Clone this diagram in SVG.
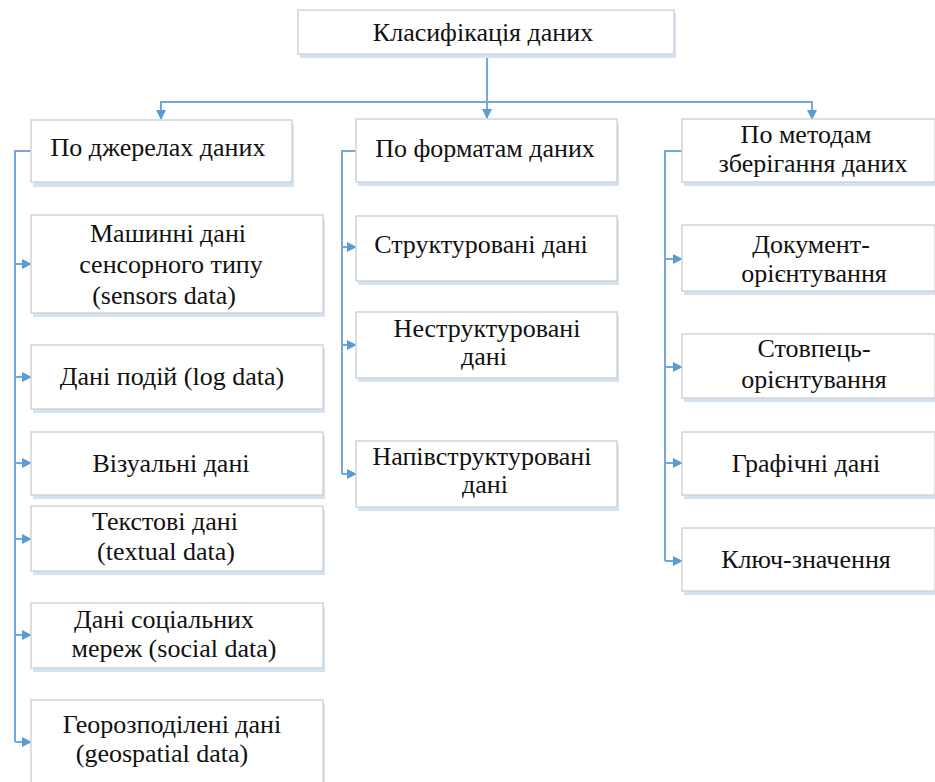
<svg xmlns="http://www.w3.org/2000/svg" width="935" height="782" viewBox="0 0 935 782" font-family="Liberation Serif, Times New Roman, DejaVu Serif, serif">
  <defs>
    <marker id="arrow" viewBox="0 0 10 10" refX="9" refY="5" markerWidth="10" markerHeight="10" markerUnits="userSpaceOnUse" orient="auto">
      <path d="M0,0 L10,5 L0,10 Z" fill="#5b9bd5"/>
    </marker>
  </defs>
  <style>
    .shadow { fill: #d3e2f4; }
    .box { fill: #ffffff; stroke: #d4d4d4; stroke-width: 1.5; }
    .label { font-size: 26px; fill: #111111; text-anchor: middle; }
    .wire { fill: none; stroke: #74a7db; stroke-width: 2; }
  </style>
  <rect width="935" height="782" fill="#ffffff"/>

  <!-- connectors -->
  <g id="connectors">
    <line class="wire" x1="487" y1="54" x2="487" y2="118" marker-end="url(#arrow)"/>
    <polyline class="wire" points="161,118 161,102 812,102 812,118"/>
    <line class="wire" x1="161" y1="102" x2="161" y2="119" marker-end="url(#arrow)"/>
    <line class="wire" x1="812" y1="102" x2="812" y2="119" marker-end="url(#arrow)"/>

    <polyline class="wire" points="31,151 15,151 15,742"/>
    <line class="wire" x1="15" y1="264" x2="31" y2="264" marker-end="url(#arrow)"/>
    <line class="wire" x1="15" y1="377" x2="31" y2="377" marker-end="url(#arrow)"/>
    <line class="wire" x1="15" y1="463" x2="31" y2="463" marker-end="url(#arrow)"/>
    <line class="wire" x1="15" y1="539" x2="31" y2="539" marker-end="url(#arrow)"/>
    <line class="wire" x1="15" y1="635" x2="31" y2="635" marker-end="url(#arrow)"/>
    <line class="wire" x1="15" y1="742" x2="31" y2="742" marker-end="url(#arrow)"/>

    <polyline class="wire" points="356,151 342,151 342,474"/>
    <line class="wire" x1="342" y1="247" x2="356" y2="247" marker-end="url(#arrow)"/>
    <line class="wire" x1="342" y1="345" x2="356" y2="345" marker-end="url(#arrow)"/>
    <line class="wire" x1="342" y1="474" x2="356" y2="474" marker-end="url(#arrow)"/>

    <polyline class="wire" points="682,151 665,151 665,561"/>
    <line class="wire" x1="665" y1="259" x2="682" y2="259" marker-end="url(#arrow)"/>
    <line class="wire" x1="665" y1="367" x2="682" y2="367" marker-end="url(#arrow)"/>
    <line class="wire" x1="665" y1="463" x2="682" y2="463" marker-end="url(#arrow)"/>
    <line class="wire" x1="665" y1="561" x2="682" y2="561" marker-end="url(#arrow)"/>
  </g>

  <!-- root -->
  <g id="root">
    <rect class="shadow" x="300" y="14" width="376" height="44"/>
    <rect class="box" x="298" y="10" width="376" height="44"/>
    <text class="label" x="483" y="41">Класифікація даних</text>
  </g>

  <!-- column: sources -->
  <g id="by-source">
    <rect class="shadow" x="33" y="124" width="261" height="63"/>
    <rect class="box" x="31" y="120" width="261" height="62"/>
    <text class="label" x="158" y="156">По джерелах даних</text>
  </g>
  <g id="sensors">
    <rect class="shadow" x="33" y="219" width="292" height="98"/>
    <rect class="box" x="31" y="215" width="292" height="98"/>
    <text class="label" y="242"><tspan x="168">Машинні дані</tspan><tspan x="171" dy="31">сенсорного типу</tspan><tspan x="164" dy="31">(sensors data)</tspan></text>
  </g>
  <g id="log">
    <rect class="shadow" x="33" y="349" width="292" height="64"/>
    <rect class="box" x="31" y="345" width="292" height="64"/>
    <text class="label" x="172" y="385">Дані подій (log data)</text>
  </g>
  <g id="visual">
    <rect class="shadow" x="33" y="436" width="292" height="63"/>
    <rect class="box" x="31" y="432" width="292" height="63"/>
    <text class="label" x="171" y="472">Візуальні дані</text>
  </g>
  <g id="textual">
    <rect class="shadow" x="33" y="510" width="292" height="65"/>
    <rect class="box" x="31" y="506" width="292" height="65"/>
    <text class="label" y="530"><tspan x="165">Текстові дані</tspan><tspan x="166" dy="30">(textual data)</tspan></text>
  </g>
  <g id="social">
    <rect class="shadow" x="33" y="607" width="292" height="65"/>
    <rect class="box" x="31" y="603" width="292" height="65"/>
    <text class="label" y="628"><tspan x="164">Дані соціальних</tspan><tspan x="174" dy="29">мереж (social data)</tspan></text>
  </g>
  <g id="geospatial">
    <rect class="shadow" x="33" y="704" width="292" height="90"/>
    <rect class="box" x="31" y="700" width="292" height="90"/>
    <text class="label" y="733"><tspan x="172">Георозподілені дані</tspan><tspan x="162" dy="29">(geospatial data)</tspan></text>
  </g>

  <!-- column: formats -->
  <g id="by-format">
    <rect class="shadow" x="358" y="123" width="261" height="63"/>
    <rect class="box" x="356" y="119" width="261" height="63"/>
    <text class="label" x="485" y="157">По форматам даних</text>
  </g>
  <g id="structured">
    <rect class="shadow" x="358" y="220" width="261" height="65"/>
    <rect class="box" x="356" y="216" width="261" height="65"/>
    <text class="label" x="481" y="253">Структуровані дані</text>
  </g>
  <g id="unstructured">
    <rect class="shadow" x="358" y="316" width="261" height="66"/>
    <rect class="box" x="356" y="312" width="261" height="66"/>
    <text class="label" y="337"><tspan x="487">Неструктуровані</tspan><tspan x="484" dy="28">дані</tspan></text>
  </g>
  <g id="semistructured">
    <rect class="shadow" x="358" y="445" width="261" height="66"/>
    <rect class="box" x="356" y="441" width="261" height="66"/>
    <text class="label" y="465"><tspan x="482">Напівструктуровані</tspan><tspan x="485" dy="28">дані</tspan></text>
  </g>

  <!-- column: storage methods -->
  <g id="by-storage">
    <rect class="shadow" x="684" y="123" width="253" height="63"/>
    <rect class="box" x="682" y="119" width="253" height="63"/>
    <text class="label" y="143"><tspan x="806">По методам</tspan><tspan x="813" dy="29">зберігання даних</tspan></text>
  </g>
  <g id="document">
    <rect class="shadow" x="684" y="229" width="253" height="66"/>
    <rect class="box" x="682" y="225" width="253" height="66"/>
    <text class="label" y="253"><tspan x="811">Документ-</tspan><tspan x="814" dy="29">орієнтування</tspan></text>
  </g>
  <g id="column">
    <rect class="shadow" x="684" y="338" width="253" height="64"/>
    <rect class="box" x="682" y="334" width="253" height="64"/>
    <text class="label" y="357"><tspan x="814">Стовпець-</tspan><tspan x="814" dy="31">орієнтування</tspan></text>
  </g>
  <g id="graph">
    <rect class="shadow" x="684" y="436" width="253" height="63"/>
    <rect class="box" x="682" y="432" width="253" height="63"/>
    <text class="label" x="806" y="472">Графічні дані</text>
  </g>
  <g id="key-value">
    <rect class="shadow" x="684" y="532" width="253" height="63"/>
    <rect class="box" x="682" y="528" width="253" height="63"/>
    <text class="label" x="806" y="568">Ключ-значення</text>
  </g>
</svg>
